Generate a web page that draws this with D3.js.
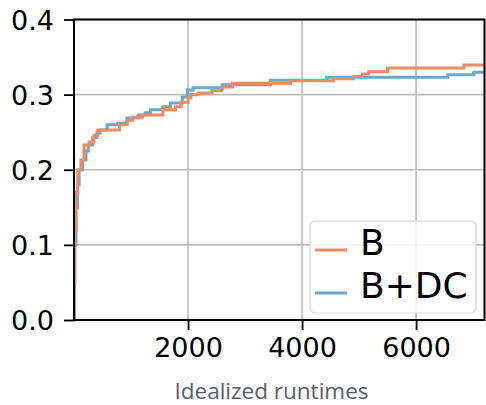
<!DOCTYPE html>
<html><head><meta charset="utf-8">
<script src="https://cdn.jsdelivr.net/npm/d3@7"></script>
<style>html,body{margin:0;padding:0;background:#fff;}</style>
</head><body>
<svg id="chart" width="486" height="405"></svg>
<script>
// ---- data ----
const seriesNames = ["B", "B+DC"];
const bRuntime = [0, 4, 12, 35, 65, 120, 175, 265, 350, 415, 800, 930, 1030, 1200, 1560, 1780, 1880, 2000, 2050, 2180, 2420, 2600, 2780, 3800, 4550, 4900, 5060, 5170, 5500, 6840, 7300];
const bFrac    = [0, 0.06, 0.12, 0.17, 0.20, 0.213, 0.233, 0.237, 0.246, 0.253, 0.26, 0.266, 0.27, 0.273, 0.28, 0.284, 0.29, 0.296, 0.300, 0.302, 0.305, 0.310, 0.315, 0.3186, 0.321, 0.324, 0.3275, 0.3306, 0.3355, 0.3395, 0.3395];
const dcRuntime = [0, 6, 15, 35, 60, 90, 150, 210, 250, 330, 400, 457, 580, 770, 930, 1125, 1250, 1340, 1560, 1690, 1900, 1990, 2090, 2600, 3445, 4430, 6555, 7012, 7300];
const dcFrac    = [0, 0.05, 0.10, 0.15, 0.18, 0.20, 0.213, 0.225, 0.233, 0.243, 0.249, 0.253, 0.26, 0.262, 0.269, 0.273, 0.276, 0.28, 0.284, 0.289, 0.297, 0.306, 0.309, 0.313, 0.319, 0.323, 0.3265, 0.3298, 0.3298];
const xTicks = [2000, 4000, 6000];
const yTicks = [0.0, 0.1, 0.2, 0.3, 0.4];
const xLabel = "Idealized runtimes";
const colors = ["#ef8a62", "#67a9cf"];

// ---- layout ----
const L = 74, R = 484.5, T = 19.5, B = 320;
const svg = d3.select("#chart");
const x = d3.scaleLinear().domain([0, 7200]).range([L, R]);
const y = d3.scaleLinear().domain([0, 0.4]).range([B, T]);

// grid
const grid = svg.append("g");
grid.selectAll("line.gx").data(xTicks).join("line")
  .attr("x1", d => x(d)).attr("x2", d => x(d)).attr("y1", T).attr("y2", B)
  .attr("stroke", "#bdbdbd").attr("stroke-width", 1.6);
grid.selectAll("line.gy").data(yTicks).join("line")
  .attr("y1", d => y(d)).attr("y2", d => y(d)).attr("x1", L).attr("x2", R)
  .attr("stroke", "#bdbdbd").attr("stroke-width", 1.6);

// clip
svg.append("clipPath").attr("id", "clip").append("rect")
  .attr("x", L).attr("y", T - 2).attr("width", R - L).attr("height", B - T + 4);

const line = d3.line().x(d => x(d[0])).y(d => y(d[1])).curve(d3.curveStepAfter);
const bData = bRuntime.map((v, i) => [v, bFrac[i]]);
const dcData = dcRuntime.map((v, i) => [v, dcFrac[i]]);
const plot = svg.append("g").attr("clip-path", "url(#clip)");
plot.append("path").datum(dcData).attr("d", line).attr("fill", "none")
  .attr("stroke", colors[1]).attr("stroke-width", 3);
plot.append("path").datum(bData).attr("d", line).attr("fill", "none")
  .attr("stroke", colors[0]).attr("stroke-width", 3);

// axes
const fontTick = "DejaVu Sans";
const xAxis = svg.append("g").attr("transform", `translate(0,${B})`)
  .call(d3.axisBottom(x).tickValues(xTicks).tickFormat(d3.format("d")).tickSize(10).tickPadding(8));
const yAxis = svg.append("g").attr("transform", `translate(${L},0)`)
  .call(d3.axisLeft(y).tickValues(yTicks).tickFormat(d3.format(".1f")).tickSize(10).tickPadding(10));
[xAxis, yAxis].forEach(a => {
  a.select(".domain").remove();
  a.selectAll(".tick line").attr("stroke", "#000").attr("stroke-width", 1.8);
  a.selectAll(".tick text").attr("font-family", fontTick).attr("font-size", 27).attr("fill", "#000");
});
xAxis.selectAll(".tick text").attr("dy", "0.71em");
yAxis.selectAll(".tick text").attr("dy", "0.36em");

// spines
svg.append("rect").attr("x", L).attr("y", T).attr("width", R - L).attr("height", B - T)
  .attr("fill", "none").attr("stroke", "#000").attr("stroke-width", 2);

// x label
svg.append("text").attr("x", 271.5).attr("y", 399).attr("text-anchor", "middle")
  .attr("font-family", "Open Sans").attr("font-size", 22.5).attr("fill", "#56626a")
  .text(xLabel);

// legend
const lg = svg.append("g");
lg.append("rect").attr("x", 310).attr("y", 221).attr("width", 166).attr("height", 92)
  .attr("rx", 5).attr("fill", "#fff").attr("fill-opacity", 0.82)
  .attr("stroke", "#d6d6d6").attr("stroke-width", 1.2);
const ly = [250, 293];
seriesNames.forEach((n, i) => {
  lg.append("line").attr("x1", 315).attr("x2", 347).attr("y1", ly[i]).attr("y2", ly[i])
    .attr("stroke", colors[i]).attr("stroke-width", 3);
  lg.append("text").attr("x", 360).attr("y", ly[i] + 5).attr("font-family", fontTick)
    .attr("font-size", 36).attr("fill", "#000").text(n);
});
</script>
</body></html>
